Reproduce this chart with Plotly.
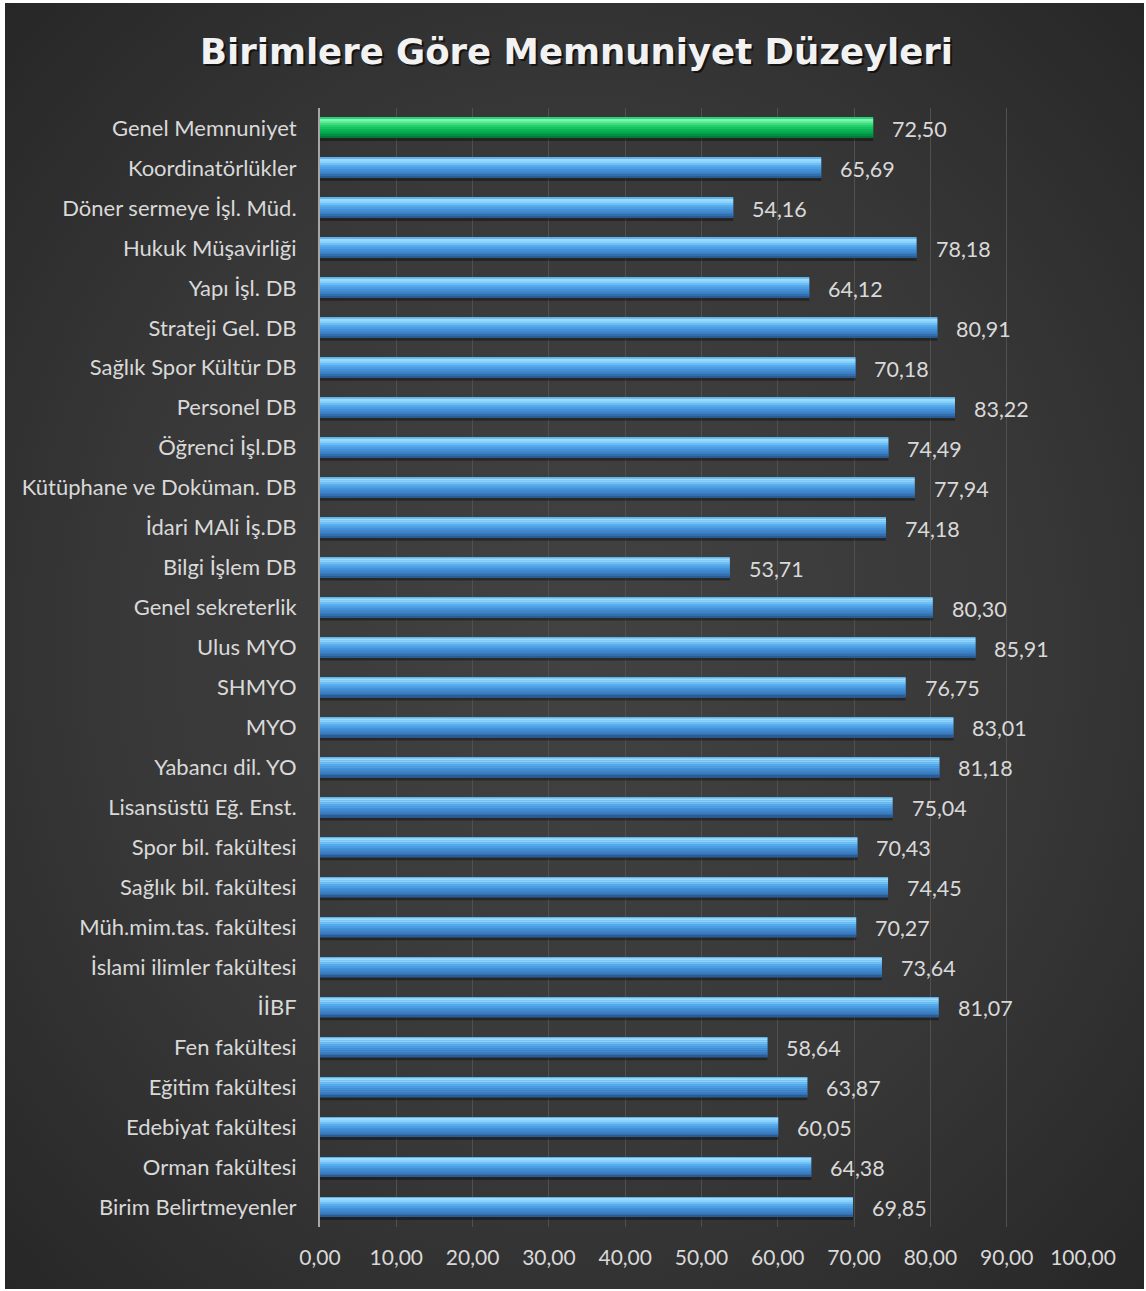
import base64
import plotly.graph_objects as go

# ---------------- data ----------------
categories = [
    "Genel Memnuniyet", "Koordinatörlükler", "Döner sermeye İşl. Müd.",
    "Hukuk Müşavirliği", "Yapı İşl. DB", "Strateji Gel. DB",
    "Sağlık Spor Kültür DB", "Personel DB", "Öğrenci İşl.DB",
    "Kütüphane ve Doküman. DB", "İdari MAli İş.DB", "Bilgi İşlem DB",
    "Genel sekreterlik", "Ulus MYO", "SHMYO", "MYO", "Yabancı dil. YO",
    "Lisansüstü Eğ. Enst.", "Spor bil. fakültesi", "Sağlık bil. fakültesi",
    "Müh.mim.tas. fakültesi", "İslami ilimler fakültesi", "İİBF",
    "Fen fakültesi", "Eğitim fakültesi", "Edebiyat fakültesi",
    "Orman fakültesi", "Birim Belirtmeyenler",
]
values = [
    72.50, 65.69, 54.16, 78.18, 64.12, 80.91, 70.18, 83.22, 74.49, 77.94,
    74.18, 53.71, 80.30, 85.91, 76.75, 83.01, 81.18, 75.04, 70.43, 74.45,
    70.27, 73.64, 81.07, 58.64, 63.87, 60.05, 64.38, 69.85,
]
highlight_category = "Genel Memnuniyet"
x_ticks = [0, 10, 20, 30, 40, 50, 60, 70, 80, 90, 100]
title_text = "Birimlere Göre Memnuniyet Düzeyleri"

# ---------------- styling ----------------
W, H = 1146, 1291
L, R, T, B = 320, 63, 108, 64
PW, PH = W - L - R, H - T - B
CAT_PX = PH / len(categories)   # pixels per category
BAR_PX = 20

def px_x(px):
    return (px - L) / PW

def px_y(py):
    return (H - B - py) / PH

is_hi = [c == highlight_category for c in categories]

# bevel strips: (top px, thickness px, blue colour, green colour)
strips = [
    (0.0, 20.0, "#3b7cc0", "#039f4b"),
    (0.0, 1.2, "#5fb3ec", "#29d375"),
    (1.0, 2.2, "#9adcff", "#7cf5ad"),
    (3.0, 2.2, "#8bd2fc", "#5eeb98"),
    (5.0, 2.2, "#6fc0f6", "#3cdc7f"),
    (7.0, 2.2, "#57acee", "#22cf6b"),
    (9.0, 2.2, "#4d9fe3", "#14c35f"),
    (11.0, 2.2, "#4591d7", "#0bb556"),
    (13.0, 2.2, "#4087cc", "#06aa50"),
    (15.0, 2.2, "#3b7cc0", "#039f4b"),
    (17.0, 1.7, "#336eaf", "#028f43"),
    (18.5, 1.5, "#2a5d96", "#017d3a"),
]

fig = go.Figure()
# shadow under bars
fig.add_bar(y=categories, x=values, orientation="h",
            width=4 / CAT_PX, offset=(-BAR_PX / 2 + 19) / CAT_PX,
            marker=dict(color="rgba(0,0,0,0.35)", line_width=0),
            hoverinfo="skip", showlegend=False)
for top, th, cb, cg in strips:
    fig.add_bar(y=categories, x=values, orientation="h",
                width=th / CAT_PX, offset=(-BAR_PX / 2 + top) / CAT_PX,
                marker=dict(color=[cg if h else cb for h in is_hi], line_width=0),
                hoverinfo="skip", showlegend=False)

# value labels
for c, v in zip(categories, values):
    fig.add_annotation(x=v, y=c, text=f"{v:.2f}".replace(".", ","),
                       xanchor="left", yanchor="middle", xshift=17, yshift=-1,
                       showarrow=False,
                       font=dict(family="Lato", size=21.5, color="#d9d9d9"))

# background gradient image
svg = (
    "<svg xmlns='http://www.w3.org/2000/svg' width='1139' height='1286' "
    "viewBox='0 0 1139 1286' preserveAspectRatio='none'>"
    "<defs><radialGradient id='g' cx='50%' cy='50%' r='72%'>"
    "<stop offset='0' stop-color='#424242'/>"
    "<stop offset='0.55' stop-color='#383838'/>"
    "<stop offset='1' stop-color='#262626'/>"
    "</radialGradient></defs>"
    "<rect x='0' y='0' width='1139' height='1286' fill='url(#g)'/></svg>"
)
uri = "data:image/svg+xml;base64," + base64.b64encode(svg.encode()).decode()
x0, x1, y0, y1 = 5, 1144, 3, 1289
fig.add_layout_image(source=uri, xref="paper", yref="paper",
                     x=px_x(x0), y=px_y(y0),
                     sizex=px_x(x1) - px_x(x0), sizey=px_y(y0) - px_y(y1),
                     xanchor="left", yanchor="top", sizing="stretch",
                     layer="below")

# title with shadow
for dx, dy, col in [(2, -2, "rgba(0,0,0,0.6)"), (0, 0, "#f2f2f2")]:
    fig.add_annotation(x=px_x(576), y=px_y(52), xref="paper", yref="paper",
                       text=f"<b>{title_text}</b>", showarrow=False,
                       xanchor="center", yanchor="middle", xshift=dx, yshift=dy,
                       font=dict(family="DejaVu Sans", size=35.5, color=col))

fig.update_layout(
    width=W, height=H,
    margin=dict(l=L, r=R, t=T, b=B),
    paper_bgcolor="white",
    plot_bgcolor="rgba(0,0,0,0)",
    barmode="overlay",
    separators=", ",
    showlegend=False,
    font=dict(family="Lato", size=21, color="#d9d9d9"),
)
fig.update_xaxes(
    range=[0, 100], tickvals=x_ticks,
    ticktext=[f"{t:.2f}".replace(".", ",") for t in x_ticks],
    showgrid=True, gridcolor="#505050", gridwidth=1,
    zeroline=False, showline=False, ticks="",
    ticklabelstandoff=16,
    tickfont=dict(family="Lato", size=21, color="#d9d9d9"),
    fixedrange=True,
)
fig.update_yaxes(
    type="category", categoryorder="array", categoryarray=categories,
    autorange="reversed",
    showline=True, linecolor="#a6a6a6", linewidth=2,
    showgrid=False, zeroline=False, ticks="",
    ticklabelstandoff=17,
    tickfont=dict(family="Lato", size=22, color="#d9d9d9"),
    fixedrange=True,
)

fig.write_html(
    "out.html",
    config={"displayModeBar": False},
    post_script="document.body.style.margin='0';document.body.style.overflow='hidden';",
)
